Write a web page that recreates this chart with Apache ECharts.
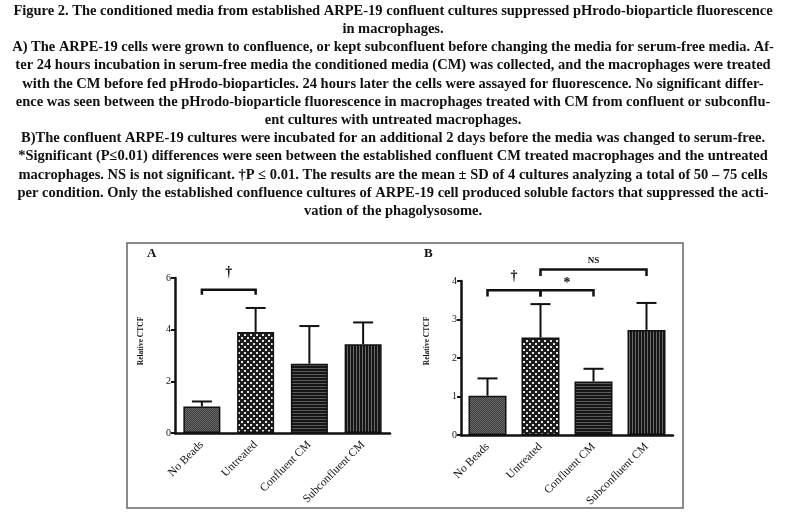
<!DOCTYPE html>
<html>
<head>
<meta charset="utf-8">
<script src="https://cdn.jsdelivr.net/npm/echarts@6/dist/echarts.min.js"></script>
<style>
html,body{margin:0;padding:0;background:#fff;}
#chart{width:786px;height:525px;}
</style>
</head>
<body>
<div id="chart"></div>
<script>
// ---- data ----
const categories = ['No Beads', 'Untreated', 'Confluent CM', 'Subconfluent CM'];
const meanA = [1.03, 3.91, 2.68, 3.44];
const sdA   = [0.19, 0.93, 1.46, 0.84];
const meanB = [1.02, 2.53, 1.39, 2.73];
const sdB   = [0.45, 0.87, 0.33, 0.70];
const yTicksA = {min: 0, max: 6, interval: 2};
const yTicksB = {min: 0, max: 4, interval: 1};
// significance brackets: [fromIndex, toIndex, level, endLevel]
const bracketsA = [[0, 1, 5.55, 5.35]];
const bracketsB = [[0, 1, 3.76, 3.60], [1, 2, 3.76, 3.60], [1, 3, 4.30, 4.13]];
// significance marks: [fromIndex, toIndex, level]
const marksA = [[0, 1, 6.2]];
const marksTextA = ['†'];
const marksB = [[0, 1, 4.13], [1, 2, 3.93], [1, 3, 4.52]];
const marksTextB = ['†', '*', 'NS'];

const captionLines = [
  'Figure 2. The conditioned media from established ARPE-19 confluent cultures suppressed pHrodo-bioparticle fluorescence',
  'in macrophages.',
  'A) The ARPE-19 cells were grown to confluence, or kept subconfluent before changing the media for serum-free media. Af-',
  'ter 24 hours incubation in serum-free media the conditioned media (CM) was collected, and the macrophages were treated',
  'with the CM before fed pHrodo-bioparticles. 24 hours later the cells were assayed for fluorescence. No significant differ-',
  'ence was seen between the pHrodo-bioparticle fluorescence in macrophages treated with CM from confluent or subconflu-',
  'ent cultures with untreated macrophages.',
  'B)The confluent ARPE-19 cultures were incubated for an additional 2 days before the media was changed to serum-free.',
  '*Significant (P≤0.01) differences were seen between the established confluent CM treated macrophages and the untreated',
  'macrophages. NS is not significant. †P ≤ 0.01. The results are the mean ± SD of 4 cultures analyzing a total of 50 – 75 cells',
  'per condition. Only the established confluence cultures of ARPE-19 cell produced soluble factors that suppressed the acti-',
  'vation of the phagolysosome.'
];

// ---- patterns ----
function pat(w, h, draw) {
  const c = document.createElement('canvas');
  c.width = w; c.height = h;
  const g = c.getContext('2d');
  draw(g);
  return {image: c, repeat: 'repeat'};
}
const fills = [
  pat(2, 2, g => { g.fillStyle = '#3c3c3c'; g.fillRect(0,0,2,2); g.fillStyle = '#6a6a6a'; g.fillRect(0,0,1,1); g.fillRect(1,1,1,1); }),
  pat(6, 6, g => { g.fillStyle = '#1c1c1c'; g.fillRect(0,0,6,6); g.fillStyle = '#e6e6e6'; g.fillRect(1,1,2,2); g.fillRect(4,4,2,2); }),
  pat(1, 3, g => { g.fillStyle = '#151515'; g.fillRect(0,0,1,3); g.fillStyle = '#5a5a5a'; g.fillRect(0,2,1,1); }),
  pat(3, 1, g => { g.fillStyle = '#151515'; g.fillRect(0,0,3,1); g.fillStyle = '#6a6a6a'; g.fillRect(2,0,1,1); })
];

const serif = '"Liberation Serif", "DejaVu Serif", serif';

function barData(vals) {
  return vals.map((v, i) => ({value: v, itemStyle: {color: fills[i]}}));
}
function errData(m, s) { return m.map((v, i) => [i, v, s[i]]); }

function errSeries(idx, m, s) {
  return {
    type: 'custom', xAxisIndex: idx, yAxisIndex: idx, z: 5,
    data: errData(m, s),
    renderItem: (params, api) => {
      const x = api.value(0), v = api.value(1), sd = api.value(2);
      const p0 = api.coord([x, v]);
      const p1 = api.coord([x, v + sd]);
      const st = {stroke: '#111', lineWidth: 2};
      return {type: 'group', children: [
        {type: 'line', shape: {x1: p0[0], y1: p0[1], x2: p1[0], y2: p1[1]}, style: st},
        {type: 'line', shape: {x1: p1[0] - 10, y1: p1[1], x2: p1[0] + 10, y2: p1[1]}, style: st}
      ]};
    }
  };
}
function bracketSeries(idx, list) {
  return {
    type: 'custom', xAxisIndex: idx, yAxisIndex: idx, z: 6, clip: false,
    data: list,
    renderItem: (params, api) => {
      const a = api.coord([api.value(0), api.value(2)]);
      const b = api.coord([api.value(1), api.value(2)]);
      const e = api.coord([api.value(0), api.value(3)]);
      return {type: 'polyline', shape: {points: [[a[0], e[1]], [a[0], a[1]], [b[0], b[1]], [b[0], e[1]]]},
        style: {stroke: '#111', lineWidth: 2.5, fill: null}};
    }
  };
}
function markSeries(idx, list, texts) {
  return {
    type: 'custom', xAxisIndex: idx, yAxisIndex: idx, z: 6, clip: false,
    data: list,
    renderItem: (params, api) => {
      const a = api.coord([api.value(0), api.value(2)]);
      const b = api.coord([api.value(1), api.value(2)]);
      const t = texts[params.dataIndex];
      return {type: 'text', x: (a[0] + b[0]) / 2, y: a[1],
        style: {text: t, textAlign: 'center', textVerticalAlign: 'middle',
          font: (t === 'NS' ? 'bold 9px ' : 'bold 14px ') + serif, fill: '#111'}};
    }
  };
}

function xAxis(gi) {
  return {
    type: 'category', gridIndex: gi, data: categories,
    axisLine: {lineStyle: {color: '#111', width: 2.5}},
    axisTick: {alignWithLabel: true, length: 5, lineStyle: {color: '#111', width: 2}},
    axisLabel: {rotate: 45, margin: 10, fontFamily: serif, fontSize: 11.5, color: '#111', interval: 0},
    splitLine: {show: false}
  };
}
function yAxis(gi, t) {
  return {
    type: 'value', gridIndex: gi, min: t.min, max: t.max, interval: t.interval,
    axisLine: {show: true, lineStyle: {color: '#111', width: 2.5}},
    axisTick: {show: true, length: 4, lineStyle: {color: '#111', width: 2}},
    axisLabel: {margin: 4, fontFamily: serif, fontSize: 10, color: '#111'},
    splitLine: {show: false}
  };
}

const chart = echarts.init(document.getElementById('chart'), null, {renderer: 'canvas'});
chart.setOption({
  animation: false,
  backgroundColor: '#fff',
  grid: [
    {left: 175, top: 278, width: 215, height: 155},
    {left: 461, top: 281, width: 212, height: 154}
  ],
  xAxis: [xAxis(0), xAxis(1)],
  yAxis: [yAxis(0, yTicksA), yAxis(1, yTicksB)],
  series: [
    {type: 'bar', xAxisIndex: 0, yAxisIndex: 0, barWidth: 37, data: barData(meanA),
      itemStyle: {borderColor: '#111', borderWidth: 1.5}},
    {type: 'bar', xAxisIndex: 1, yAxisIndex: 1, barWidth: 38, data: barData(meanB),
      itemStyle: {borderColor: '#111', borderWidth: 1.5}},
    errSeries(0, meanA, sdA),
    errSeries(1, meanB, sdB),
    bracketSeries(0, bracketsA),
    bracketSeries(1, bracketsB),
    markSeries(0, marksA, marksTextA),
    markSeries(1, marksB, marksTextB)
  ],
  graphic: [
    {type: 'text', x: 393, y: 2, z: 10,
      style: {text: captionLines.join('\n'), textAlign: 'center', font: 'bold 14.5px ' + serif,
        lineHeight: 18.2, fill: '#111'}},
    {type: 'rect', z: -1, shape: {x: 127, y: 243, width: 556, height: 265},
      style: {fill: null, stroke: '#666', lineWidth: 1.5}},
    {type: 'text', x: 147, y: 247, style: {text: 'A', font: 'bold 13px ' + serif, fill: '#111'}},
    {type: 'text', x: 424, y: 247, style: {text: 'B', font: 'bold 13px ' + serif, fill: '#111'}},
    {type: 'text', x: 141, y: 341, rotation: Math.PI / 2,
      style: {text: 'Relative CTCF', textAlign: 'center', textVerticalAlign: 'middle', font: 'bold 7.5px ' + serif, fill: '#111'}},
    {type: 'text', x: 427, y: 341, rotation: Math.PI / 2,
      style: {text: 'Relative CTCF', textAlign: 'center', textVerticalAlign: 'middle', font: 'bold 7.5px ' + serif, fill: '#111'}}
  ]
});
</script>
</body>
</html>
